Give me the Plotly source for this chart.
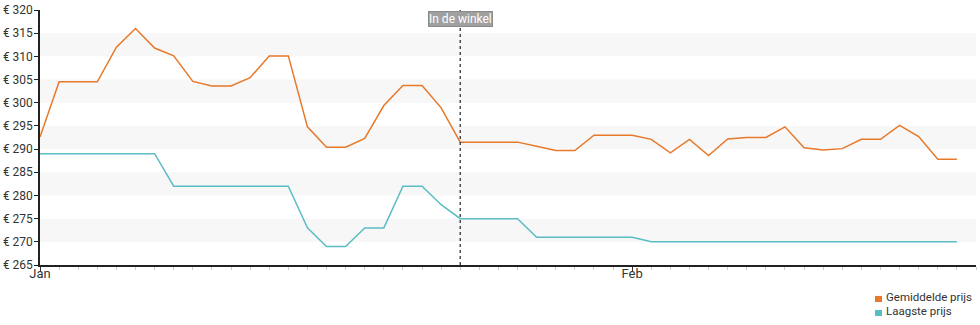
import pandas as pd
import plotly.graph_objects as go

dates = pd.date_range("2024-01-01", periods=49, freq="D")

gemiddelde_prijs = [
    292.6, 304.5, 304.5, 304.5, 312.0, 316.0, 311.8, 310.1, 304.6, 303.6,
    303.6, 305.4, 310.1, 310.1, 294.8, 290.4, 290.4, 292.3, 299.4, 303.7,
    303.7, 298.9, 291.5, 291.5, 291.5, 291.5, 290.6, 289.7, 289.7, 293.0,
    293.0, 293.0, 292.1, 289.2, 292.1, 288.6, 292.2, 292.5, 292.5, 294.8,
    290.3, 289.8, 290.1, 292.1, 292.1, 295.1, 292.7, 287.8, 287.8,
]
laagste_prijs = [
    289, 289, 289, 289, 289, 289, 289, 282, 282, 282,
    282, 282, 282, 282, 273, 269, 269, 273, 273, 282,
    282, 278, 275, 275, 275, 275, 271, 271, 271, 271,
    271, 271, 270, 270, 270, 270, 270, 270, 270, 270,
    270, 270, 270, 270, 270, 270, 270, 270, 270,
]
series_names = ["Gemiddelde prijs", "Laagste prijs"]
colors = ["#e8782a", "#5bbdc4"]
band_ranges = [(270, 275), (280, 285), (290, 295), (300, 305), (310, 315)]
marker_date = "2024-01-23"
marker_label = "In de winkel"

fig = go.Figure()
for name, vals, c in zip(series_names, [gemiddelde_prijs, laagste_prijs], colors):
    fig.add_trace(go.Scatter(x=dates, y=vals, mode="lines", name=name,
                             line=dict(color=c, width=1.5), showlegend=False))

shapes = []
for lo, hi in band_ranges:
    shapes.append(dict(type="rect", xref="paper", yref="y", x0=0, x1=1, y0=lo, y1=hi,
                       fillcolor="#f7f7f7", line=dict(width=0), layer="below"))
shapes.append(dict(type="line", xref="x", yref="paper", x0=marker_date, x1=marker_date,
                   y0=0, y1=1, line=dict(color="#333333", width=1.3, dash="dot")))

annotations = [dict(x=marker_date, y=0.963, xref="x", yref="paper", text=marker_label,
                    showarrow=False, bgcolor="#a0a0a0", font=dict(color="white", size=12),
                    borderpad=0, bordercolor="#8a8a8a", borderwidth=1,
                    yanchor="middle", xanchor="center")]

# legend drawn as squares + text below the plot (bottom right)
leg_y = [-0.1333, -0.1882]
for name, c, ly in zip(series_names, colors, leg_y):
    shapes.append(dict(type="rect", xref="paper", yref="paper", x0=0.8921, x1=0.8996,
                       y0=ly - 0.012, y1=ly + 0.012, fillcolor=c, line=dict(width=0)))
    annotations.append(dict(x=0.9017, y=ly + 0.008, xref="paper", yref="paper", text=name,
                            showarrow=False, xanchor="left", yanchor="middle",
                            font=dict(size=11.5, color="#333333")))

fig.update_layout(
    width=980, height=325,
    margin=dict(l=40, r=4, t=10, b=60),
    paper_bgcolor="white", plot_bgcolor="white",
    font=dict(family="Roboto", size=13, color="#333333"),
    shapes=shapes,
    annotations=annotations,
    showlegend=False,
)
fig.update_xaxes(
    range=["2024-01-01", "2024-02-19"], tickformat="%b", dtick="M1",
    tick0="2024-01-01", ticks="outside", ticklen=4, tickcolor="#333333",
    showline=True, linecolor="#222222", linewidth=1.5, showgrid=False, zeroline=False,
    minor=dict(dtick=86400000, ticks="outside", ticklen=3, tickcolor="#cccccc", showgrid=False),
    tickfont=dict(size=13), automargin=False, ticklabelstandoff=-8,
)
fig.update_yaxes(
    range=[265, 320], dtick=5, tickprefix="€ ", ticks="outside", ticklen=4,
    tickcolor="#222222", showline=True, linecolor="#222222", linewidth=1.5,
    showgrid=False, zeroline=False, tickfont=dict(size=12), automargin=False,
    ticklabelstandoff=-1,
)
fig.write_html("out.html")
